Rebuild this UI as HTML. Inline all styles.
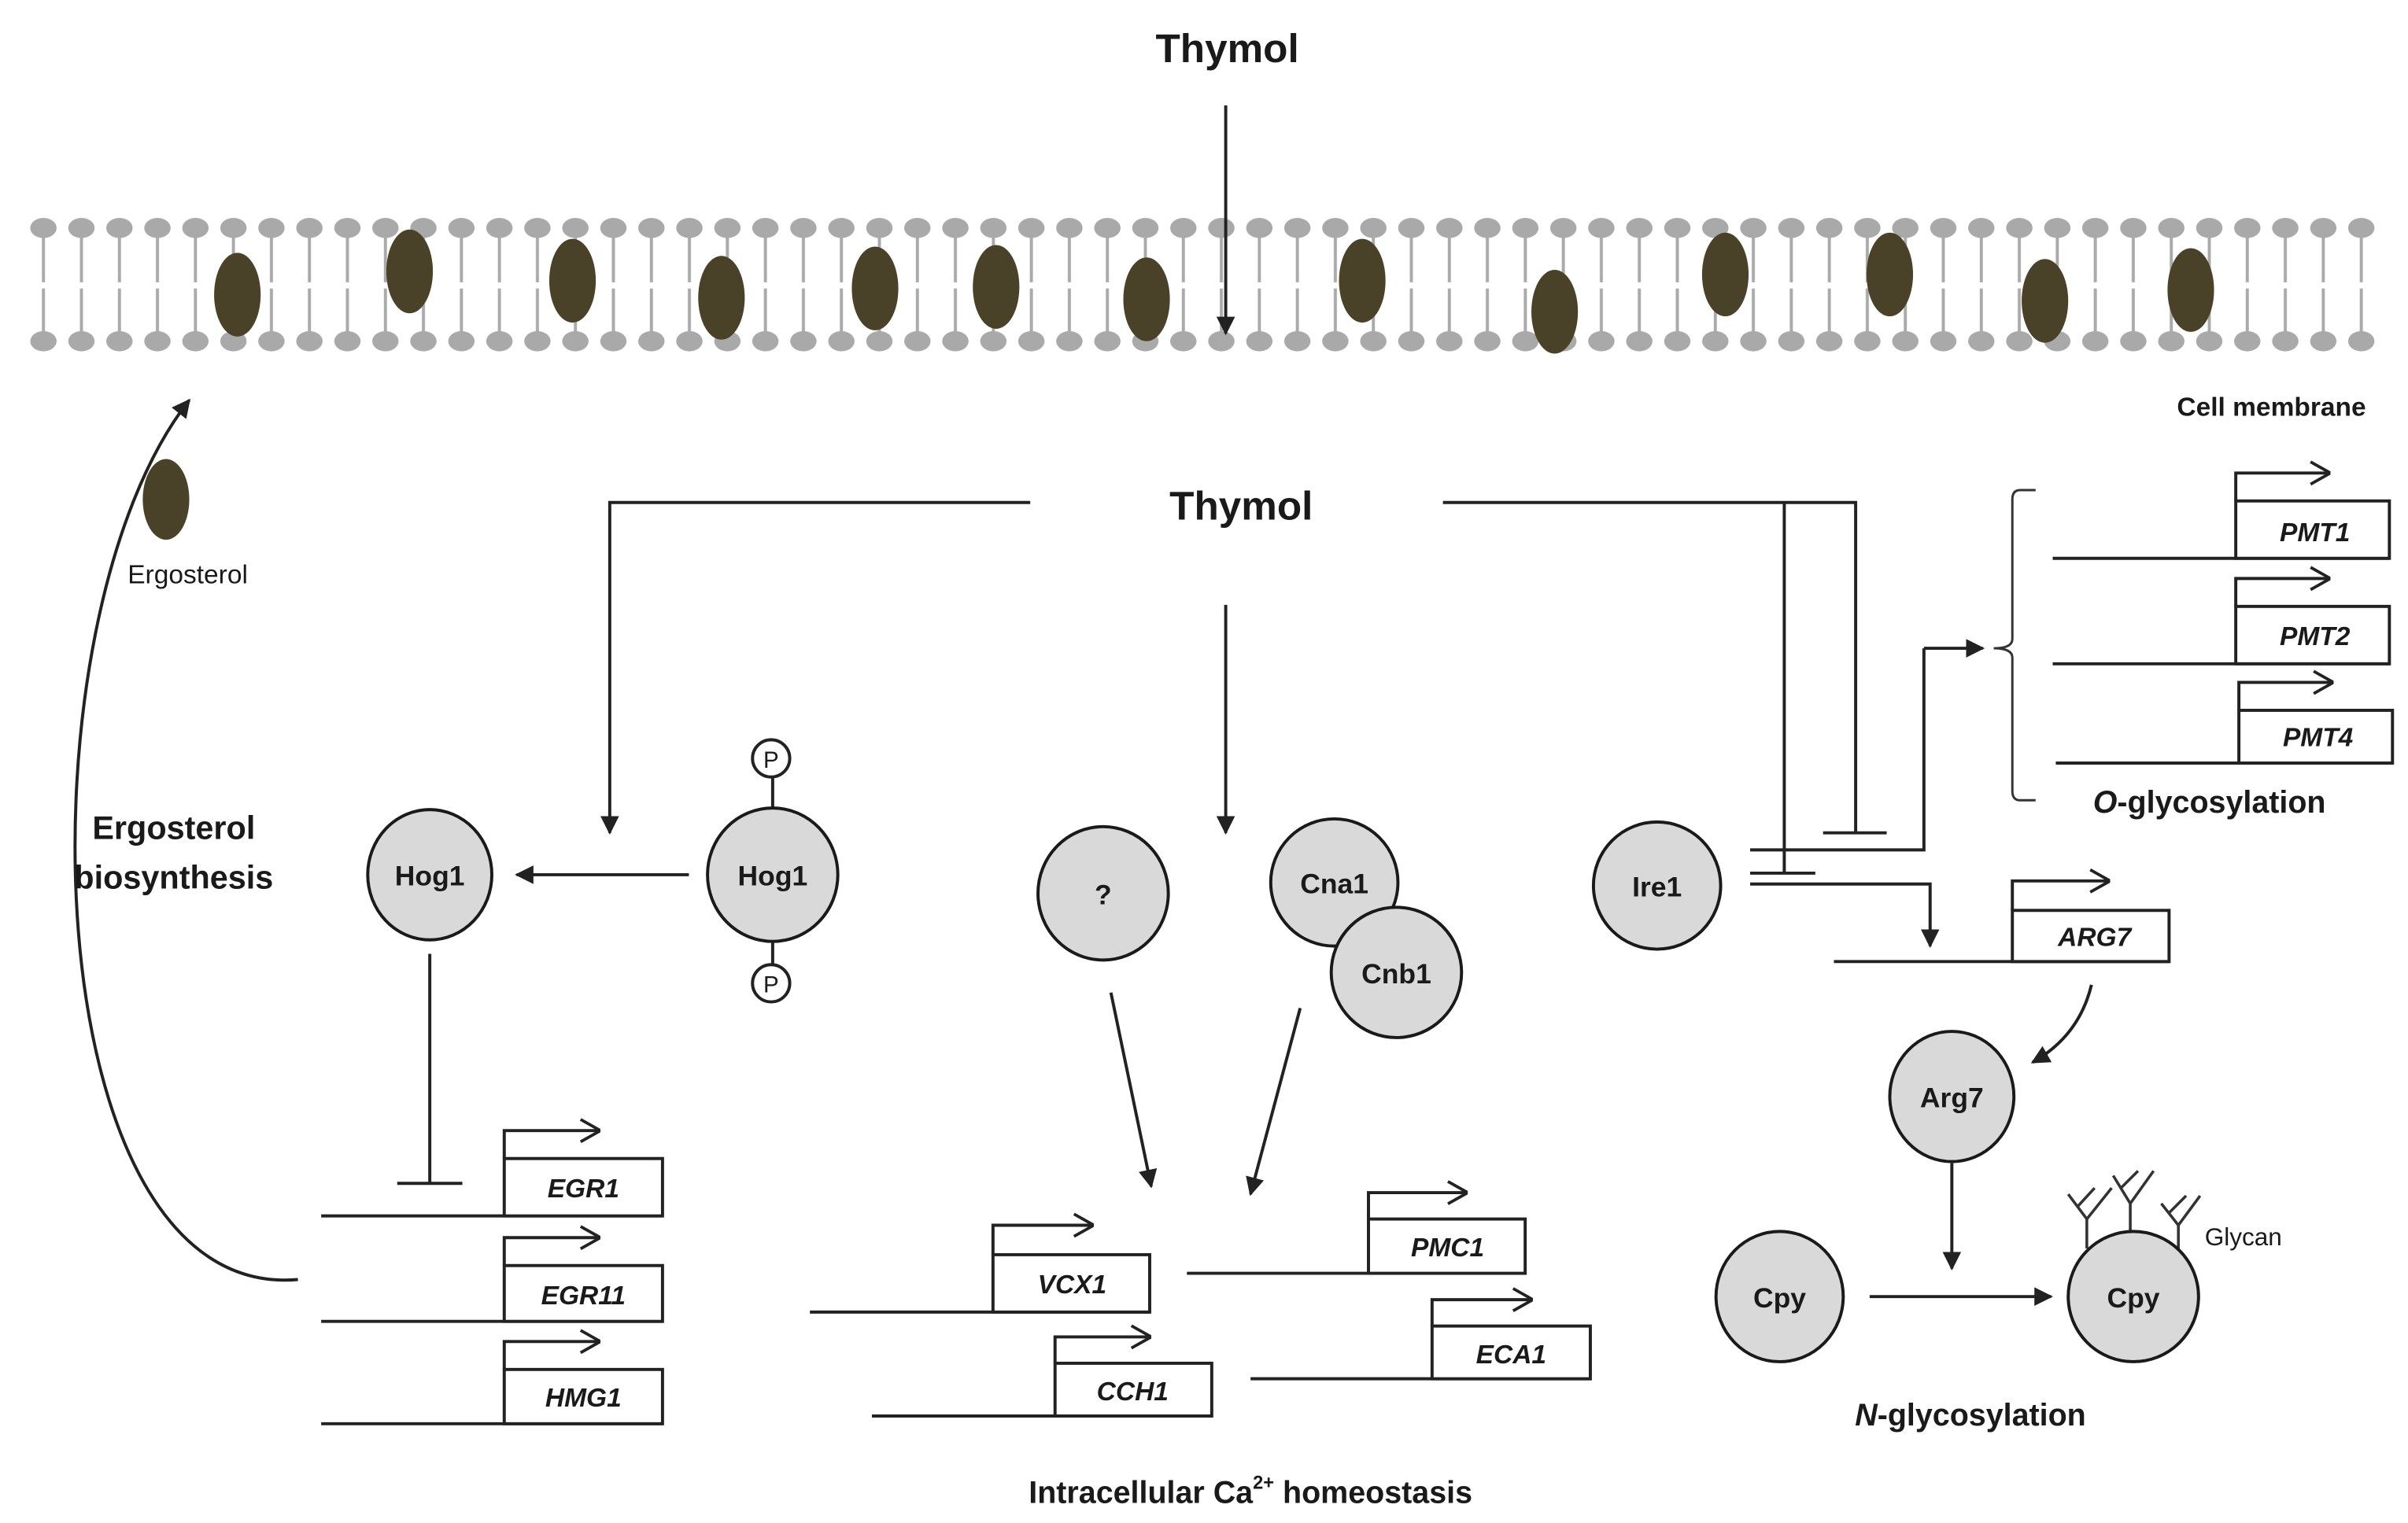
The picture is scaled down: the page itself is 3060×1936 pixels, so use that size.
<!DOCTYPE html>
<html><head><meta charset="utf-8"><style>
html,body{margin:0;padding:0;background:#fff;}
svg{display:block;}
text{font-family:"Liberation Sans","DejaVu Sans",sans-serif;fill:#1a1a1a;}
.b{font-weight:bold;}
.g{font-style:italic;font-weight:bold;font-size:17px;}
.n{fill:#d9d9d9;stroke:#1a1a1a;stroke-width:2;}
.l{stroke:#222;stroke-width:2;fill:none;}
.bx{fill:#fff;stroke:#222;stroke-width:2;}
</style></head><body>
<svg width="3060" height="1936" viewBox="0 0 1552 982" preserveAspectRatio="none" xmlns="http://www.w3.org/2000/svg">
<defs>
<pattern id="mem" patternUnits="userSpaceOnUse" x="15.75" y="135" width="24.49" height="100">
<line x1="12.25" y1="16" x2="12.25" y2="47" stroke="#aaa" stroke-width="2"/>
<line x1="12.25" y1="51" x2="12.25" y2="82" stroke="#aaa" stroke-width="2"/>
<ellipse cx="12.25" cy="12" rx="8.5" ry="6.5" fill="#a9a9a9"/>
<ellipse cx="12.25" cy="85" rx="8.5" ry="6.5" fill="#a9a9a9"/>
</pattern>
<marker id="a" viewBox="0 0 10 10" refX="9" refY="5" markerWidth="6" markerHeight="6" orient="auto"><path d="M0,0 L10,5 L0,10 z" fill="#222"/></marker>
<marker id="o" viewBox="0 0 10 10" refX="10" refY="5" markerWidth="16" markerHeight="16" orient="auto" markerUnits="userSpaceOnUse"><path d="M2,0.5 L10,5 L2,9.5" fill="none" stroke="#222" stroke-width="1.2"/></marker>
</defs>
<rect x="15" y="135" width="1520" height="100" fill="url(#mem)"/>
<g fill="#4a4228">
<ellipse cx="153" cy="190" rx="15" ry="27"/><ellipse cx="264" cy="175" rx="15" ry="27"/>
<ellipse cx="369" cy="181" rx="15" ry="27"/><ellipse cx="465" cy="192" rx="15" ry="27"/>
<ellipse cx="564" cy="186" rx="15" ry="27"/><ellipse cx="642" cy="185" rx="15" ry="27"/>
<ellipse cx="739" cy="193" rx="15" ry="27"/><ellipse cx="878" cy="181" rx="15" ry="27"/>
<ellipse cx="1002" cy="201" rx="15" ry="27"/><ellipse cx="1112" cy="177" rx="15" ry="27"/>
<ellipse cx="1218" cy="177" rx="15" ry="27"/><ellipse cx="1318" cy="194" rx="15" ry="27"/>
<ellipse cx="1412" cy="187" rx="15" ry="27"/><ellipse cx="107" cy="322" rx="15" ry="26"/>
</g>
<text x="791" y="40" font-size="26" class="b" text-anchor="middle">Thymol</text>
<line x1="790" y1="68" x2="790" y2="215" class="l" marker-end="url(#a)"/>
<text x="1464" y="268" font-size="17" class="b" text-anchor="middle">Cell membrane</text>
<text x="121" y="376" font-size="17" text-anchor="middle">Ergosterol</text>
<path d="M192,825 C20,840 10,400 122,258" class="l" marker-end="url(#a)"/>
<text x="112" y="541" font-size="21" class="b" text-anchor="middle">Ergosterol</text>
<text x="112" y="573" font-size="21" class="b" text-anchor="middle">biosynthesis</text>
<text x="800" y="335" font-size="26" class="b" text-anchor="middle">Thymol</text>
<path d="M664,324 H393 V537" class="l" marker-end="url(#a)"/>
<line x1="790" y1="390" x2="790" y2="537" class="l" marker-end="url(#a)"/>
<path d="M930,324 H1196 V537 M1175,537 H1216 M1150,324 V563 M1128,563 H1170 M1128,548 H1240 V418" class="l"/>
<line x1="1240" y1="418" x2="1278" y2="418" class="l" marker-end="url(#a)"/>
<path d="M1128,570 H1244 V610" class="l" marker-end="url(#a)"/>
<path d="M1312,316 H1302 Q1297,316 1297,322 V412 Q1297,418 1285,418 Q1297,418 1297,424 V510 Q1297,516 1302,516 H1312" stroke="#333" stroke-width="1.5" fill="none"/>
<g>
<line x1="1323" y1="360" x2="1540" y2="360" class="l"/><rect x="1441" y="323" width="99" height="37" class="bx"/><path d="M1441,323 V305 H1502" class="l" marker-end="url(#o)"/><text x="1492" y="349" class="g" text-anchor="middle">PMT1</text>
<line x1="1323" y1="428" x2="1540" y2="428" class="l"/><rect x="1441" y="391" width="99" height="37" class="bx"/><path d="M1441,391 V373 H1502" class="l" marker-end="url(#o)"/><text x="1492" y="416" class="g" text-anchor="middle">PMT2</text>
<line x1="1325" y1="492" x2="1542" y2="492" class="l"/><rect x="1443" y="458" width="99" height="34" class="bx"/><path d="M1443,458 V440 H1504" class="l" marker-end="url(#o)"/><text x="1494" y="481" class="g" text-anchor="middle">PMT4</text>
</g>
<text x="1424" y="524" font-size="20" class="b" text-anchor="middle"><tspan font-style="italic">O</tspan>-glycosylation</text>
<line x1="1182" y1="620" x2="1398" y2="620" class="l"/><rect x="1297" y="587" width="101" height="33" class="bx"/><path d="M1297,587 V568 H1360" class="l" marker-end="url(#o)"/><text x="1350" y="610" class="g" text-anchor="middle">ARG7</text>
<path d="M1348,635 Q1340,668 1310,685" class="l" marker-end="url(#a)"/>
<circle cx="1068" cy="571" r="41" class="n"/><text x="1068" y="578" font-size="18" class="b" text-anchor="middle">Ire1</text>
<ellipse cx="1258" cy="707" rx="40" ry="42" class="n"/><text x="1258" y="714" font-size="18" class="b" text-anchor="middle">Arg7</text>
<line x1="1258" y1="750" x2="1258" y2="818" class="l" marker-end="url(#a)"/>
<ellipse cx="1147" cy="836" rx="41" ry="42" class="n"/><text x="1147" y="843" font-size="18" class="b" text-anchor="middle">Cpy</text>
<line x1="1205" y1="836" x2="1322" y2="836" class="l" stroke-width="2.5" marker-end="url(#a)"/>
<path d="M1345,805 V786 L1333,770 M1345,786 L1361,766 M1339,778 L1350,766 M1373,798 V776 L1362,758 M1373,776 L1388,755 M1367,766 L1378,755 M1404,808 V790 L1393,776 M1404,790 L1418,771 M1398,782 L1409,771" stroke="#333" stroke-width="1.8" fill="none"/>
<ellipse cx="1375" cy="836" rx="42" ry="42" class="n"/><text x="1375" y="843" font-size="18" class="b" text-anchor="middle">Cpy</text>
<text x="1421" y="803" font-size="16" fill="#333">Glycan</text>
<text x="1270" y="919" font-size="20" class="b" text-anchor="middle"><tspan font-style="italic">N</tspan>-glycosylation</text>
<line x1="498" y1="501" x2="498" y2="522" class="l"/><line x1="498" y1="606" x2="498" y2="622" class="l"/>
<circle cx="497" cy="489" r="12" fill="#fff" stroke="#222" stroke-width="2"/><text x="497" y="495" font-size="15" text-anchor="middle">P</text>
<circle cx="497" cy="634" r="12" fill="#fff" stroke="#222" stroke-width="2"/><text x="497" y="640" font-size="15" text-anchor="middle">P</text>
<ellipse cx="277" cy="564" rx="40" ry="42" class="n"/><text x="277" y="571" font-size="18" class="b" text-anchor="middle">Hog1</text>
<ellipse cx="498" cy="564" rx="42" ry="43" class="n"/><text x="498" y="571" font-size="18" class="b" text-anchor="middle">Hog1</text>
<line x1="444" y1="564" x2="333" y2="564" class="l" stroke-width="3" marker-end="url(#a)"/>
<path d="M277,615 V763 M256,763 H298" class="l"/>
<line x1="207" y1="784" x2="427" y2="784" class="l"/><rect x="325" y="747" width="102" height="37" class="bx"/><path d="M325,747 V729 H387" class="l" marker-end="url(#o)"/><text x="376" y="772" class="g" text-anchor="middle">EGR1</text>
<line x1="207" y1="852" x2="427" y2="852" class="l"/><rect x="325" y="816" width="102" height="36" class="bx"/><path d="M325,816 V798 H387" class="l" marker-end="url(#o)"/><text x="376" y="841" class="g" text-anchor="middle">EGR11</text>
<line x1="207" y1="918" x2="427" y2="918" class="l"/><rect x="325" y="883" width="102" height="35" class="bx"/><path d="M325,883 V865 H387" class="l" marker-end="url(#o)"/><text x="376" y="907" class="g" text-anchor="middle">HMG1</text>
<ellipse cx="711" cy="576" rx="42" ry="43" class="n"/><text x="711" y="583" font-size="18" class="b" text-anchor="middle">?</text>
<ellipse cx="860" cy="569" rx="41" ry="41" class="n"/><text x="860" y="576" font-size="18" class="b" text-anchor="middle">Cna1</text>
<ellipse cx="900" cy="627" rx="42" ry="42" class="n"/><text x="900" y="634" font-size="18" class="b" text-anchor="middle">Cnb1</text>
<line x1="716" y1="640" x2="742" y2="765" class="l" marker-end="url(#a)"/>
<line x1="838" y1="650" x2="806" y2="770" class="l" marker-end="url(#a)"/>
<line x1="522" y1="846" x2="741" y2="846" class="l"/><rect x="640" y="809" width="101" height="37" class="bx"/><path d="M640,809 V790 H705" class="l" marker-end="url(#o)"/><text x="691" y="834" class="g" text-anchor="middle">VCX1</text>
<line x1="765" y1="821" x2="983" y2="821" class="l"/><rect x="882" y="786" width="101" height="35" class="bx"/><path d="M882,786 V769 H946" class="l" marker-end="url(#o)"/><text x="933" y="810" class="g" text-anchor="middle">PMC1</text>
<line x1="562" y1="913" x2="781" y2="913" class="l"/><rect x="680" y="879" width="101" height="34" class="bx"/><path d="M680,879 V862 H742" class="l" marker-end="url(#o)"/><text x="730" y="903" class="g" text-anchor="middle">CCH1</text>
<line x1="806" y1="889" x2="1025" y2="889" class="l"/><rect x="923" y="855" width="102" height="34" class="bx"/><path d="M923,855 V838 H988" class="l" marker-end="url(#o)"/><text x="974" y="879" class="g" text-anchor="middle">ECA1</text>
<text x="806" y="969" font-size="20" class="b" text-anchor="middle">Intracellular Ca<tspan font-size="12" dy="-9">2+</tspan><tspan dy="9"> homeostasis</tspan></text>
</svg>
</body></html>
